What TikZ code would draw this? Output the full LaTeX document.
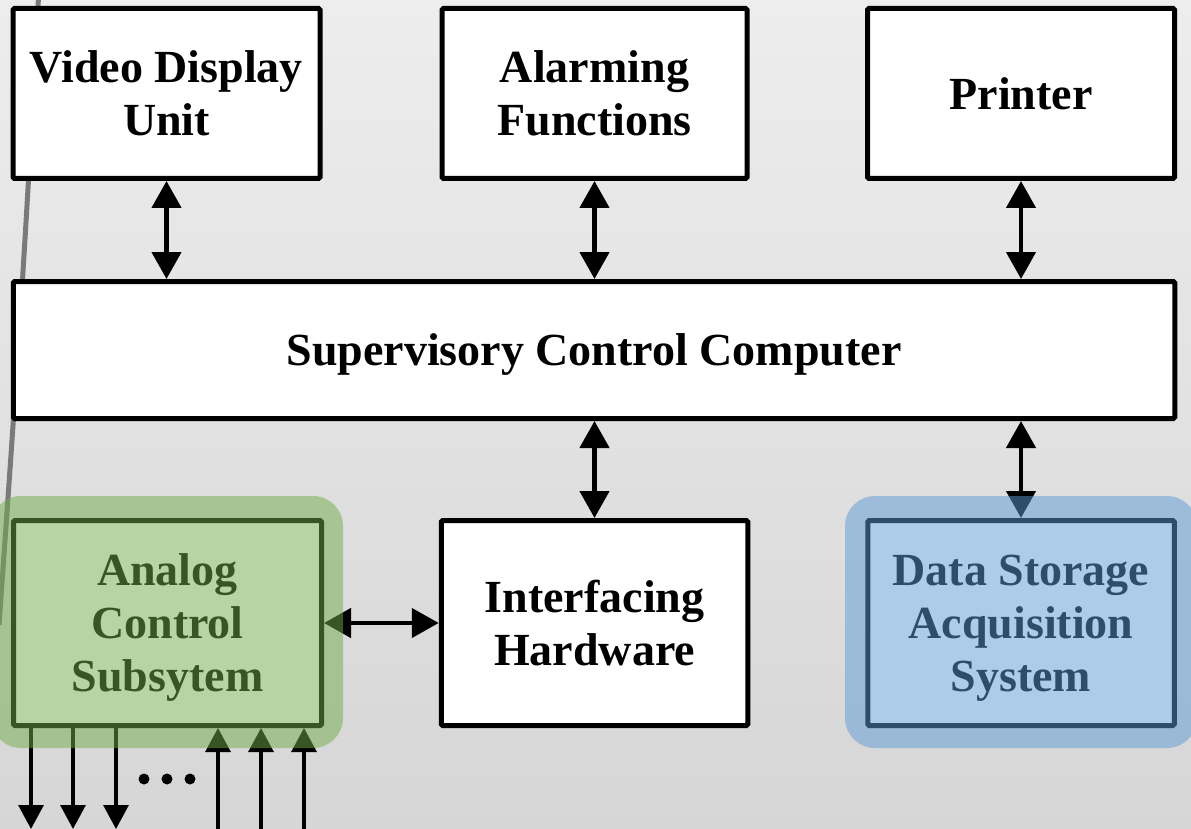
\documentclass[tikz,border=0pt]{standalone}
\usepackage{fontspec}
\setmainfont{Liberation Serif}
\usetikzlibrary{arrows.meta}

\definecolor{bgtop}{HTML}{EDEDED}
\definecolor{bgbot}{HTML}{D6D6D6}
\definecolor{railgray}{HTML}{7A7A7A}
\definecolor{accgreen}{HTML}{70AD47}
\definecolor{accblue}{HTML}{5B9BD5}

\tikzset{
  block/.style={draw, line width=5pt, fill=white, rounded corners=1.5pt,
    align=center, inner sep=0pt, text depth=0pt,
    font=\fontsize{46}{53}\selectfont\bfseries},
  bus/.style={line width=4.5pt,
    {Triangle[length=27pt,width=29pt]}-{Triangle[length=27pt,width=29pt]}},
  outsig/.style={line width=3.2pt, -{Triangle[length=24pt,width=25pt]}},
  highlight/.style={rounded corners=30pt, fill opacity=0.5},
}

\begin{document}
\begin{tikzpicture}[x=1pt,y=-1pt]
\useasboundingbox (0,0) rectangle (1191,829);
\shade[top color=bgtop,bottom color=bgbot] (0,0) rectangle (1191,829);

% thin gray rail on the left edge
\draw[railgray, line width=5pt] (38.5,-3) .. controls (24,280) and (10,470) .. (-1,625);

% blocks
\node[block, minimum width=307pt, minimum height=170pt] (vdu)     at (166.5,93.5) {Video Display\\Unit};
\node[block, minimum width=305pt, minimum height=170pt] (alarm)   at (594.5,93.5) {Alarming\\Functions};
\node[block, minimum width=307pt, minimum height=170pt] (printer) at (1021,93.5)  {Printer};
\node[block, minimum width=1161.5pt, minimum height=137pt] (super) at (594,350) {Supervisory Control Computer};
\node[block, minimum width=308pt, minimum height=205pt] (analog)  at (167.5,623) {Analog\\Control\\Subsytem};
\node[block, minimum width=306.5pt, minimum height=205pt] (iface)  at (594.5,623) {Interfacing\\Hardware};
\node[block, minimum width=306.5pt, minimum height=205pt] (data)   at (1021,623)  {Data Storage\\Acquisition\\System};

% links to the supervisory computer
\draw[bus] (vdu.south) -- (vdu.south |- super.north);
\draw[bus] (alarm.south) -- (alarm.south |- super.north);
\draw[bus] (printer.south) -- (printer.south |- super.north);
\draw[bus] (iface.north) -- (iface.north |- super.south);
\draw[bus] (data.north) -- (data.north |- super.south);
\draw[bus] (analog.east) -- (iface.west);

% field signals of the analog subsystem
\coordinate (o1) at (31,829);
\coordinate (o2) at (73,829);
\coordinate (o3) at (116,829);
\coordinate (i1) at (218,829);
\coordinate (i2) at (261,829);
\coordinate (i3) at (304,829);
\draw[outsig] (o1 |- analog.south) -- (o1);
\draw[outsig] (o2 |- analog.south) -- (o2);
\draw[outsig] (o3 |- analog.south) -- (o3);
\draw[outsig] (i1) -- (i1 |- analog.south);
\draw[outsig] (i2) -- (i2 |- analog.south);
\draw[outsig] (i3) -- (i3 |- analog.south);
\fill (144,779) circle (5.5pt);
\fill (167,779) circle (5.5pt);
\fill (190,779) circle (5.5pt);

% translucent highlights
\fill[accgreen, highlight] (-9,496) rectangle (343,748);
\fill[accblue, highlight] (845,496) rectangle (1197,748);
\end{tikzpicture}
\end{document}
